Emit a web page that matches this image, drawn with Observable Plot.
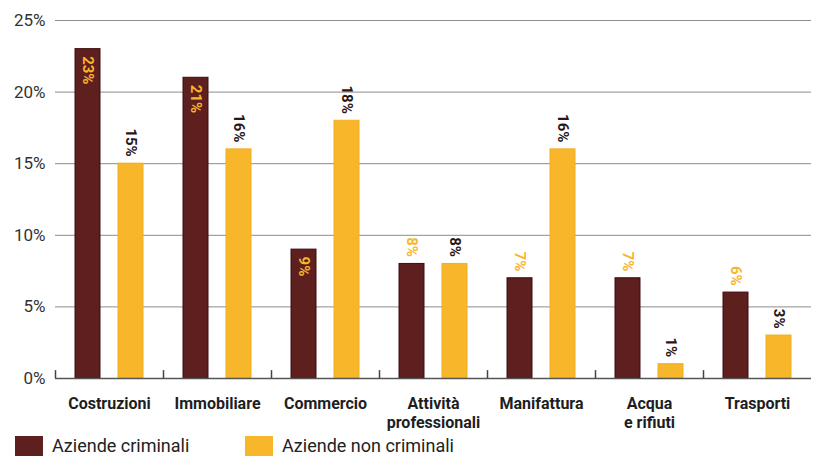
<!DOCTYPE html>
<html><head><meta charset="utf-8">
<script src="https://cdn.jsdelivr.net/npm/d3@7"></script>
<script src="https://cdn.jsdelivr.net/npm/@observablehq/plot@0.6"></script>
<style>
body{margin:0;background:#fff;font-family:Roboto,sans-serif;overflow:hidden;}
#chart svg{display:block;}
.legend{position:relative;height:22px;font-size:18px;line-height:20px;color:#222;}
.item{position:absolute;top:1px;display:flex;align-items:center;}
.sw{display:inline-block;width:28px;height:20px;margin-right:9px;}
</style></head><body><div id="chart"></div>
<div class="legend" id="legend"></div>
<script>
const categories = ["Costruzioni","Immobiliare","Commercio","Attività professionali","Manifattura","Acqua e rifiuti","Trasporti"];
const categoryLabels = ["Costruzioni","Immobiliare","Commercio","Attività\nprofessionali","Manifattura","Acqua\ne rifiuti","Trasporti"];
const series = ["Aziende criminali","Aziende non criminali"];
const criminali = [23,21,9,8,7,7,6];
const nonCriminali = [15,16,18,8,16,1,3];
const yTicks = [0,5,10,15,20,25];

const colors = ["#5e1f1f","#f8b62b"];
const dark = "#2a1616";

const data = categories.flatMap((c,i)=>[
  {cat:c, series:series[0], value:criminali[i]},
  {cat:c, series:series[1], value:nonCriminali[i]}
]);
const isInside = d => d.series===series[0] && d.value>=9;

const plot = Plot.plot({
  width:813, height:435,
  marginTop:20, marginBottom:57, marginLeft:52, marginRight:0,
  style:{fontFamily:"Roboto, sans-serif", background:"#fff"},
  fx:{domain:categories, padding:0, axis:null},
  x:{domain:series, paddingInner:0.43, paddingOuter:0.45, align:0.5, axis:null},
  y:{domain:[0,25], axis:null},
  color:{domain:series, range:colors},
  marks:[
    Plot.ruleY(yTicks.filter(d=>d>0), {stroke:"#8c8c8c", strokeWidth:1}),
    Plot.axisY(yTicks, {tickSize:0, tickPadding:10, tickFormat:d=>d+"%", fontSize:17, fill:"#333", label:null}),
    Plot.axisFx({anchor:"bottom", tickSize:0, tickPadding:17, fontSize:16, fontWeight:"bold", fill:"#1e1e1e", lineHeight:1.2,
      tickFormat:c=>categoryLabels[categories.indexOf(c)], label:null}),
    Plot.barY(data, {fx:"cat", x:"series", y:"value", fill:"series",
      stroke:d=>d.series===series[0]?"#3a0e0e":"#f3ae20", strokeWidth:1}),
    Plot.ruleY([0], {stroke:"#555", strokeWidth:1.5}),
    Plot.ruleX(categories, {fx:d=>d, x:()=>series[0], y1:0, y2:0.55, dx:-32.5, stroke:"#444", strokeWidth:1.5}),
    Plot.text(data.filter(isInside), {fx:"cat", x:"series", y:"value", text:d=>d.value+"%",
      rotate:90, textAnchor:"start", dy:7, fill:colors[1], fontSize:15, fontWeight:"bold"}),
    Plot.text(data.filter(d=>!isInside(d)), {fx:"cat", x:"series", y:"value", text:d=>d.value+"%",
      rotate:90, textAnchor:"end", dy:-7, fill:d=>d.series===series[0]?colors[1]:dark, fontSize:15, fontWeight:"bold"})
  ]
});
document.getElementById("chart").append(plot);

const lg = document.getElementById("legend");
const lefts = [15, 245];
series.forEach((s,i)=>{
  const it = document.createElement("div");
  it.className = "item";
  it.style.left = lefts[i]+"px";
  it.innerHTML = `<span class="sw" style="background:${colors[i]}"></span><span>${s}</span>`;
  lg.append(it);
});
</script></body></html>
